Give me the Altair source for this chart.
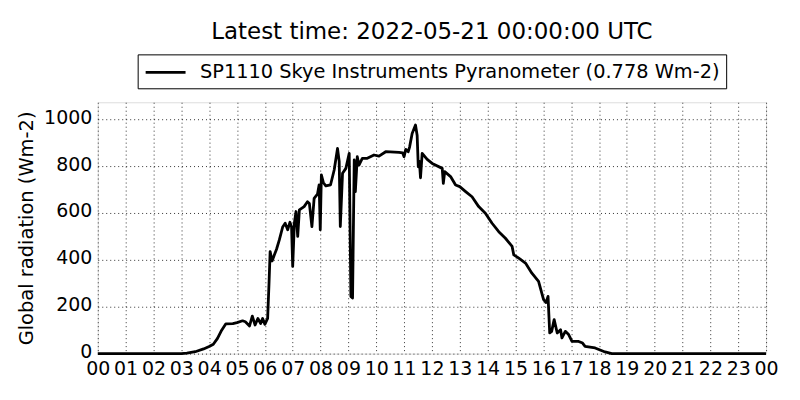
import altair as alt
import pandas as pd

hours = [0.0, 3.0, 3.2, 3.5, 3.8, 4.0, 4.15, 4.3, 4.45, 4.6, 4.85, 5.0, 5.2, 5.3, 5.45,
         5.55, 5.65, 5.75, 5.85, 5.92, 6.0, 6.1, 6.15, 6.19, 6.26, 6.34, 6.42, 6.52,
         6.64, 6.73, 6.82, 6.9, 6.96, 7.0, 7.06, 7.12, 7.18, 7.24, 7.41, 7.53, 7.6,
         7.69, 7.77, 7.89, 7.95, 7.99, 8.03, 8.1, 8.19, 8.36, 8.49, 8.61, 8.67, 8.71,
         8.79, 8.91, 9.03, 9.09, 9.15, 9.21, 9.25, 9.32, 9.38, 9.5, 9.68, 9.92, 10.1,
         10.34, 10.82, 10.95, 11.0, 11.06, 11.15, 11.2, 11.29, 11.41, 11.47, 11.51,
         11.55, 11.59, 11.65, 11.83, 12.01, 12.37, 12.41, 12.46, 12.67, 12.85, 13.0,
         13.21, 13.44, 13.68, 13.92, 14.16, 14.4, 14.64, 14.88, 14.94, 15.12, 15.36,
         15.59, 15.83, 16.01, 16.1, 16.17, 16.23, 16.3, 16.39, 16.5, 16.62, 16.67,
         16.79, 16.91, 17.03, 17.27, 17.41, 17.5, 17.86, 18.22, 18.46, 24.0]
radiation = [0, 0, 2, 8, 20, 30, 40, 65, 100, 127, 128, 132, 140, 136, 118,
             160, 122, 150, 128, 150, 125, 150, 300, 435, 395, 421, 445, 485,
             540, 556, 528, 560, 540, 372, 556, 606, 500, 613, 627, 648, 640,
             542, 662, 680, 720, 528, 762, 730, 715, 720, 783, 875, 820, 542,
             769, 790, 854, 244, 237, 826, 691, 840, 804, 833, 833, 847, 842,
             861, 858, 856, 840, 871, 861, 882, 939, 975, 930, 797,
             820, 750, 854, 828, 811, 790, 726, 776, 755, 719, 712,
             691, 669, 627, 599, 556, 520, 492, 457, 421, 407, 386,
             343, 308, 230, 218, 244, 88, 95, 145, 88, 102, 67,
             95, 81, 52, 52, 45, 31, 24, 7, 0, 0]

series_name = "SP1110 Skye Instruments Pyranometer (0.778 Wm-2)"
title_text = "Latest time: 2022-05-21 00:00:00 UTC"
y_title = "Global radiation (Wm-2)"
x_ticks = list(range(25))
y_ticks = [0, 200, 400, 600, 800, 1000]

df = pd.DataFrame({"hour": hours, "rad": radiation, "series": series_name})

FONT = "DejaVu Sans"

chart = alt.Chart(df).mark_line(strokeWidth=2.8, strokeJoin="round").encode(
    x=alt.X("hour:Q",
            scale=alt.Scale(domain=[0, 24], nice=False, zero=False),
            axis=alt.Axis(values=x_ticks, title=None, ticks=False,
                          labelExpr="(datum.value % 24 < 10 ? '0' : '') + (datum.value % 24)",
                          labelFontSize=19, labelPadding=6, labelFont=FONT,
                          labelColor="black", labelFlush=False, labelOverlap=False,
                          grid=True, gridColor="black", gridDash=[1, 3], gridWidth=0.8,
                          domain=False)),
    y=alt.Y("rad:Q",
            scale=alt.Scale(domain=[0, 1072], nice=False),
            axis=alt.Axis(values=y_ticks, title=y_title, ticks=False, format="d",
                          labelFontSize=19, labelPadding=6, labelFont=FONT,
                          labelColor="black", labelOffset=-2,
                          titleFont=FONT, titleFontSize=19.5, titleFontWeight="normal",
                          titleColor="black", titlePadding=7,
                          grid=True, gridColor="black", gridDash=[1, 3], gridWidth=0.8,
                          domain=False)),
    color=alt.Color("series:N",
                    scale=alt.Scale(domain=[series_name], range=["black"]),
                    legend=alt.Legend(orient="none", legendX=40, legendY=-48, title=None,
                                      symbolType="M-1,0H3", symbolSize=400,
                                      symbolStrokeWidth=2.8, symbolStrokeColor="black",
                                      labelFontSize=19.4, labelFont=FONT, labelColor="black",
                                      labelOffset=33, labelLimit=1000, padding=6.5,
                                      strokeColor="black", fillColor="white",
                                      cornerRadius=0)),
).properties(
    width=670, height=252,
    title=alt.TitleParams(title_text, fontSize=23, font=FONT, fontWeight="normal",
                          color="black", anchor="middle", baseline="alphabetic",
                          offset=13, dy=21),
    padding={"left": 90, "top": 94, "right": 26, "bottom": 40},
    autosize="none",
).configure_view(stroke="black", strokeWidth=1.2).configure(background="white")

chart.save("out.html", embed_options={"renderer": "svg", "actions": False})
